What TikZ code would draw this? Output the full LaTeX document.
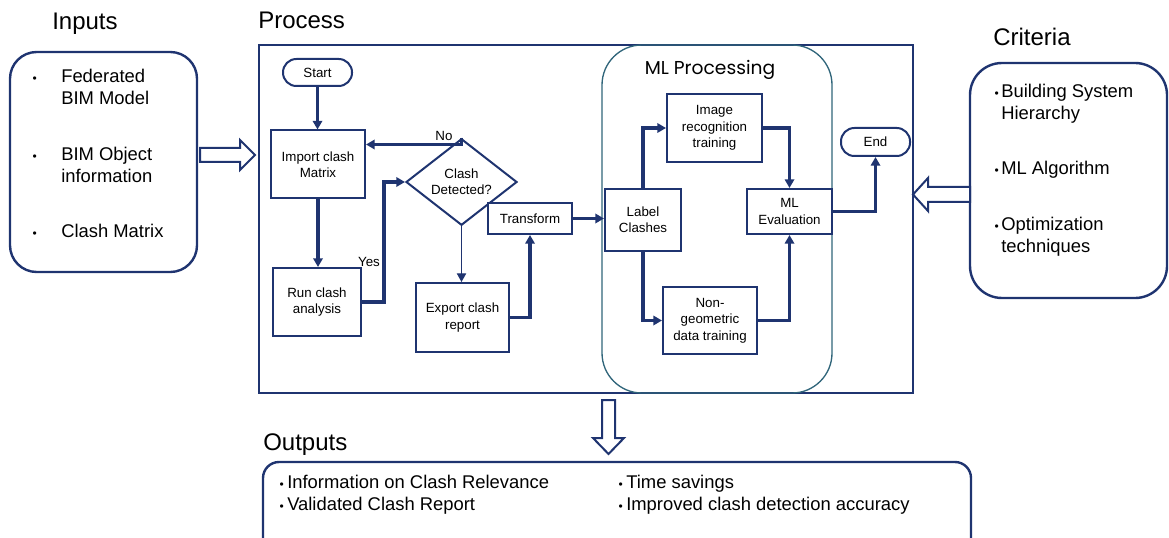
\documentclass[tikz,border=0pt]{standalone}
\usepackage{fontspec}
\setmainfont{Liberation Sans}
\newfontfamily\mlfont{Poppins}
\usetikzlibrary{shapes.geometric,arrows.meta,calc}
\definecolor{navy}{HTML}{1F3470}
\definecolor{teal}{HTML}{30657A}
\tikzset{
  px/.style={x=0.75pt,y=-0.75pt},
  flowbox/.style={draw=navy,line width=1.5pt,fill=white,inner sep=1pt,align=center,font=\fontsize{10}{12.3}\selectfont},
  termbox/.style={flowbox,rounded corners=10pt},
  decision/.style={draw=navy,line width=1.5pt,fill=white,shape=diamond,inner sep=0pt,align=center,font=\fontsize{10}{12}\selectfont},
  flow/.style={draw=navy,line width=2.4pt,-{Triangle[length=6.5pt,width=7pt]}},
  thinflow/.style={draw=navy,line width=0.9pt,-{Triangle[length=6.5pt,width=7pt]}},
  title/.style={anchor=base west,inner sep=0pt,font=\fontsize{18}{20}\selectfont},
  bigtext/.style={anchor=base west,inner sep=0pt,align=left,font=\fontsize{13.8}{16.5}\selectfont},
  bul/.style={anchor=base east,inner sep=0pt,font=\fontsize{9}{10}\selectfont},
  outline/.style={draw=navy,line width=1.8pt},
  hollow/.style={draw=navy,line width=1.5pt,fill=white,line join=miter},
  lbl/.style={inner sep=0pt,font=\fontsize{10}{12}\selectfont}
}
\begin{document}
\begin{tikzpicture}[px]
\useasboundingbox (0,0) rectangle (1169,538);
% containers
\draw[outline,rounded corners=20pt] (10,52) rectangle (197,272);
\draw[outline,rounded corners=24pt] (970,63) rectangle (1167,298);
\draw[outline,rounded corners=12pt] (263,538) -- (263,462) -- (971,462) -- (971,538);
\draw[draw=navy,line width=1.7pt] (259,45) rectangle (913,393);
\draw[draw=teal,line width=1pt,rounded corners=30pt] (602,45) rectangle (832,393);
% titles
\node[title] (tin) at (52,30) {Inputs};
\node[title] (tproc) at (258,29) {Process};
\node[title] (tcrit) at (993,46) {Criteria};
\node[title] (tout) at (263,450) {Outputs};
\node[inner sep=0pt,anchor=base,font=\mlfont\fontsize{14}{16}\selectfont] (tml) at (710,75) {ML Processing};
% inputs text (multi-line nodes anchored at the baseline of their last line)
\node[bul] (ib1) at (37,83) {•};
\node[bigtext] (it1) at (61,105) {Federated\\BIM Model};
\node[bul] (ib2) at (37,161) {•};
\node[bigtext] (it2) at (61,183) {BIM Object\\information};
\node[bul] (ib3) at (37,238) {•};
\node[bigtext] (it3) at (61,238) {Clash Matrix};
% criteria text
\node[bul] (cb1) at (999,98) {•};
\node[bigtext] (ct1) at (1001,120) {Building System\\Hierarchy};
\node[bul] (cb2) at (999,175) {•};
\node[bigtext] (ct2) at (1001,175) {ML Algorithm};
\node[bul] (cb3) at (999,230) {•};
\node[bigtext] (ct3) at (1001,252) {Optimization\\techniques};
% outputs text
\node[bul] (ob1) at (284,488) {•};
\node[bigtext] (ot1) at (287,488) {Information on Clash Relevance};
\node[bul] (ob2) at (284,510) {•};
\node[bigtext] (ot2) at (287,510) {Validated Clash Report};
\node[bul] (ob3) at (623,488) {•};
\node[bigtext] (ot3) at (626,488) {Time savings};
\node[bul] (ob4) at (623,510) {•};
\node[bigtext] (ot4) at (626,510) {Improved clash detection accuracy};
% hollow arrows
\draw[hollow] (200,148) -- (240,148) -- (240,140) -- (255,155) -- (240,170) -- (240,162) -- (200,162) -- cycle;
\draw[hollow] (970,187) -- (928,187) -- (928,178) -- (913,194.5) -- (928,211) -- (928,202) -- (970,202) -- cycle;
\draw[hollow] (602,400) -- (602,438) -- (593,438) -- (608.5,454) -- (624,438) -- (615,438) -- (615,400) -- cycle;
% flow nodes
\node[termbox,minimum width=51.75pt,minimum height=20.25pt] (start) at (317.5,72.5) {Start};
\node[flowbox,minimum width=70.5pt,minimum height=51pt] (import) at (318,164.5) {Import clash\\Matrix};
\node[flowbox,minimum width=66pt,minimum height=51pt] (run) at (317,302) {Run clash\\analysis};
\node[decision,minimum width=83.25pt,minimum height=46.5pt] (dia) at (461.5,182) {Clash\\Detected?};
\node[flowbox,minimum width=69.75pt,minimum height=51.75pt] (export) at (462.5,317.5) {Export clash\\report};
\node[flowbox,minimum width=63pt,minimum height=23.25pt] (transform) at (530,218.5) {Transform};
\node[flowbox,minimum width=57pt,minimum height=46.5pt] (label) at (643,220) {Label\\Clashes};
\node[flowbox,minimum width=71.25pt,minimum height=51pt] (image) at (714.5,128) {Image\\recognition\\training};
\node[flowbox,minimum width=70.5pt,minimum height=50.25pt] (nongeo) at (710,320.5) {Non-\\geometric\\data training};
\node[flowbox,minimum width=63.75pt,minimum height=33.75pt] (mleval) at (789.5,211.5) {ML\\Evaluation};
\node[termbox,minimum width=51.75pt,minimum height=21pt] (end) at (875.5,142) {End};
% connectors
\draw[flow] (start.south) -- (start.south |- import.north);
\draw[flow] (import.south) -- (import.south |- run.north);
\draw[flow] (run.east) -- ++(22,0) |- (dia.west);
\draw[flow] (dia.north) |- ([yshift=15pt]import.east);
\draw[thinflow] (dia.south) -- (dia.south |- export.north);
\draw[flow] (export.east) -| (transform.south);
\draw[flow] (transform.east) -- (transform.east -| label.west);
\draw[flow] (label.north) |- (image.west);
\draw[flow] (label.south) |- (nongeo.west);
\draw[flow] (image.east) -| (mleval.north);
\draw[flow] (nongeo.east) -| (mleval.south);
\draw[flow] (mleval.east) -| (end.south);
\node[lbl] (no) at (444,136) {No};
\node[lbl] (yes) at (369,262) {Yes};
\end{tikzpicture}
\end{document}
